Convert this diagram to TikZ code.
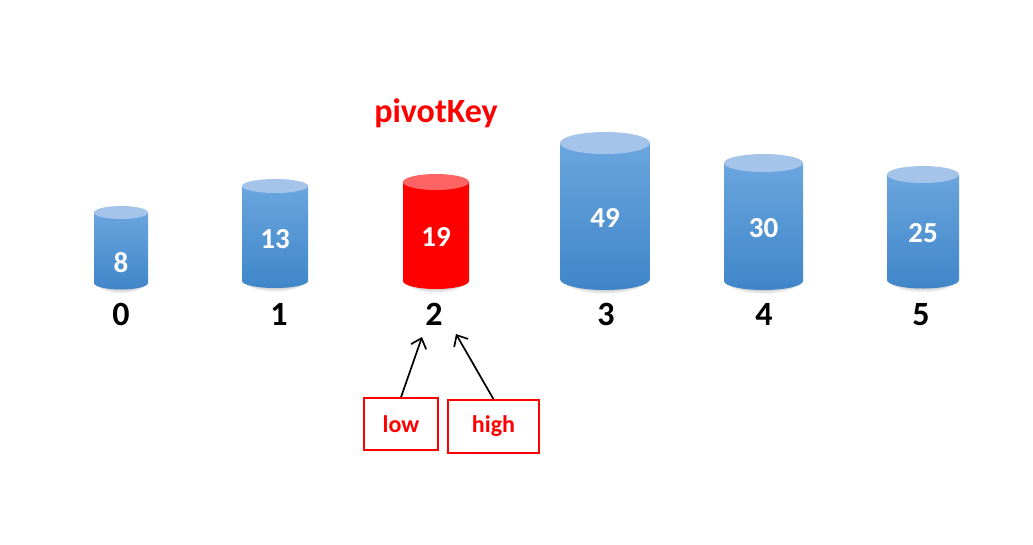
\documentclass[tikz,border=0pt]{standalone}
\usepackage{fontspec}
\setmainfont{Carlito}
\usetikzlibrary{arrows.meta}
\definecolor{cyltop}{HTML}{A4C5E9}
\definecolor{cylhi}{HTML}{6AA5DE}
\definecolor{cyllo}{HTML}{3F86C9}
\definecolor{redtop}{HTML}{FF6464}
\tikzset{
  val/.style={text=white,font=\bfseries\fontsize{29}{29}\selectfont,inner sep=0pt},
  idx/.style={text=black,font=\bfseries\fontsize{34}{34}\selectfont,inner sep=0pt,anchor=base},
  ptr/.style={draw=red,line width=1.6pt,text=red,font=\bfseries\fontsize{24}{24}\selectfont,inner sep=0pt},
  ptrarrow/.style={draw=black,line width=1.7pt,-{Straight Barb[length=9pt,width=16pt,line width=1.7pt]}}
}
\begin{document}
\begin{tikzpicture}[x=1pt,y=-1pt]
\useasboundingbox[fill=white] (0,0) rectangle (1033,544);
% cylinders: name/left/right/top center/ry/bottom center/value/value y/index x/kind
\foreach \n/\L/\R/\t/\r/\b/\v/\vy/\ix/\k in {
  0/94/148/212.5/6.5/283/8/263/121/b,
  1/242/308/186/7/281/13/239/279/b,
  2/403/469/182/8/281/19/237/434/r,
  3/560/650/143/11/279/49/218/606/b,
  4/724/803/163/9/281/30/228/764/b,
  5/887/959/174.5/8.5/280/25/233/921/b}{
  \pgfmathsetmacro\rx{(\R-\L)/2}
  \pgfmathsetmacro\cx{(\R+\L)/2}
  % soft shadow
  \foreach \s in {1,...,6}{
    \fill[black,opacity=0.045] (\L+1,\b-2) arc[start angle=180,end angle=0,x radius=\rx-1,y radius=\r+\s];
  }
  \if\k b
    \shade[top color=cylhi,bottom color=cyllo] (\L,\t) -- (\L,\b) arc[start angle=180,end angle=0,x radius=\rx,y radius=\r] -- (\R,\t) -- cycle;
    \fill[cyltop] (\cx,\t) ellipse[x radius=\rx,y radius=\r];
  \else
    \fill[red] (\L,\t) -- (\L,\b) arc[start angle=180,end angle=0,x radius=\rx,y radius=\r] -- (\R,\t) -- cycle;
    \fill[redtop] (\cx,\t) ellipse[x radius=\rx,y radius=\r];
  \fi
  \node[val] (v\n) at (\cx,\vy) {\v};
  \node[idx] (i\n) at (\ix,325) {\n};
}
\node[text=red,font=\bfseries\fontsize{34}{34}\selectfont,inner sep=0pt] (pivot) at (436,113) {pivotKey};
\node[ptr,minimum width=74pt,minimum height=52pt] (low) at (401,424) {low};
\node[ptr,minimum width=91pt,minimum height=53pt,text depth=4pt] (high) at (493.5,426.5) {high};
\coordinate (lowend) at (422,337);
\coordinate (highend) at (456,334);
\draw[ptrarrow] (low.north) -- (lowend);
\draw[ptrarrow] (high.north) -- (highend);
\end{tikzpicture}
\end{document}
